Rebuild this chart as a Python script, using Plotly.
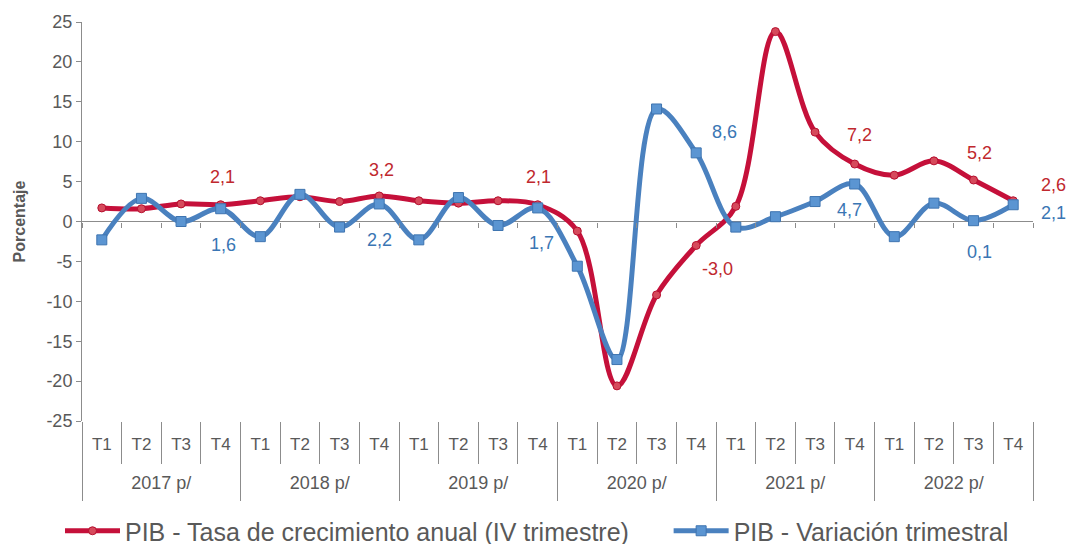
import plotly.graph_objects as go

years_lbl = ["2017 p/", "2018 p/", "2019 p/", "2020 p/", "2021 p/", "2022 p/"]
quarters = ["T1", "T2", "T3", "T4"] * 6
y_ticks = [-25, -20, -15, -10, -5, 0, 5, 10, 15, 20, 25]

anual = [1.7, 1.6, 2.2, 2.1, 2.6, 3.1, 2.5, 3.2, 2.6, 2.3, 2.6, 2.1,
         -1.2, -20.6, -9.2, -3.0, 1.9, 23.8, 11.2, 7.2, 5.8, 7.6, 5.2, 2.6]
trimestral = [-2.3, 2.9, 0.0, 1.6, -1.9, 3.4, -0.7, 2.2, -2.3, 3.0, -0.5, 1.7,
              -5.6, -17.3, 14.1, 8.6, -0.7, 0.6, 2.5, 4.7, -1.9, 2.3, 0.1, 2.1]

name_anual = "PIB - Tasa de crecimiento anual (IV trimestre)" + "\u00a0" * 5
name_trim = "PIB - Variación trimestral"

# labelled points: (index, dx, dy)
lab_anual = [(3, 2, 28), (7, 2, 26), (11, 1, 28), (15, 21, -24), (19, 5, 29), (22, 6, 27), (23, 40, 16)]
lab_trim = [(3, 3, -36), (7, 0, -36), (11, 4, -35), (15, 28, 21), (19, -5, -26), (22, 6, -31), (23, 40, -8)]

n = len(quarters)
idx = list(range(n))                       # category positions
centers_year = [4 * k + 1.5 for k in range(len(years_lbl))]
bounds_all = [i - 0.5 for i in range(n + 1)]
bounds_year = [4 * k - 0.5 for k in range(len(years_lbl) + 1)]

RED = "#C5103A"
BLUE = "#4A81BF"
RED_TXT = "#C0282E"
BLUE_TXT = "#3A76B4"
GRAY = "#595959"
LINE = "#8C8C8C"
FONT = "Liberation Sans, Arial"

fig = go.Figure()
fig.add_trace(go.Scatter(
    x=idx, y=anual, name=name_anual, mode="lines+markers",
    line=dict(color=RED, width=5, shape="spline", smoothing=1.0),
    marker=dict(symbol="circle", size=8, color="#D64A5C", line=dict(color="#B5102E", width=1)),
))
fig.add_trace(go.Scatter(
    x=idx, y=trimestral, name=name_trim, mode="lines+markers",
    line=dict(color=BLUE, width=5, shape="spline", smoothing=1.0),
    marker=dict(symbol="square", size=10, color="#5B95D2", line=dict(color="#3E74B0", width=1)),
))
# invisible helpers so the extra axes are drawn
for ax in ("x2", "x3"):
    fig.add_trace(go.Scatter(x=idx, y=anual, xaxis=ax, mode="lines", opacity=0,
                             showlegend=False, hoverinfo="skip"))

ann = []
for i, dx, dy in lab_anual:
    ann.append(dict(x=i, y=anual[i], xref="x", yref="y", text=f"{anual[i]:.1f}".replace(".", ","),
                    showarrow=False, xshift=dx, yshift=dy,
                    font=dict(size=18, color=RED_TXT, family=FONT)))
for i, dx, dy in lab_trim:
    ann.append(dict(x=i, y=trimestral[i], xref="x", yref="y", text=f"{trimestral[i]:.1f}".replace(".", ","),
                    showarrow=False, xshift=dx, yshift=dy,
                    font=dict(size=18, color=BLUE_TXT, family=FONT)))

rng = [-0.5, n - 0.5]
fig.update_layout(
    width=1071, height=544,
    margin=dict(l=82, r=38, t=22, b=123),
    paper_bgcolor="white", plot_bgcolor="white",
    font=dict(family=FONT, color=GRAY, size=16),
    showlegend=True,
    legend=dict(orientation="h", xref="container", x=60 / 1071, xanchor="left",
                yref="container", y=1 - 531 / 544, yanchor="middle",
                font=dict(size=25, color=GRAY), itemwidth=55, tracegroupgap=0,
                borderwidth=0),
    annotations=ann,
    # quarter labels + separators
    xaxis=dict(
        type="linear", range=rng, showgrid=False, showline=False, zeroline=False,
        tickmode="array", tickvals=idx, ticktext=quarters,
        ticks="outside", ticklen=8, tickcolor="rgba(0,0,0,0)",
        tickfont=dict(size=17, color=GRAY),
        minor=dict(tickmode="array", tickvals=bounds_all, ticks="outside", ticklen=42,
                   tickcolor=LINE, tickwidth=1, showgrid=False),
    ),
    # small ticks on the zero line
    xaxis2=dict(
        type="linear", range=rng, overlaying="x", anchor="free", position=0.5,
        showgrid=False, showline=False, zeroline=False, showticklabels=False,
        tickmode="array", tickvals=bounds_all,
        ticks="outside", ticklen=5, tickcolor=LINE,
    ),
    # year labels + year dividers
    xaxis3=dict(
        type="linear", range=rng, overlaying="x", anchor="free", position=0,
        showgrid=False, showline=False, zeroline=False,
        tickmode="array", tickvals=centers_year, ticktext=years_lbl,
        ticks="outside", ticklen=45, tickcolor="rgba(0,0,0,0)",
        tickfont=dict(size=18, color=GRAY),
        minor=dict(tickmode="array", tickvals=bounds_year, ticks="outside", ticklen=79,
                   tickcolor=LINE, tickwidth=1, showgrid=False),
    ),
    yaxis=dict(
        range=[-25, 25], showgrid=False,
        tickmode="array", tickvals=y_ticks, ticktext=[str(v) for v in y_ticks],
        zeroline=True, zerolinecolor=LINE, zerolinewidth=1,
        showline=True, linecolor=LINE, linewidth=1,
        ticks="outside", ticklen=5, tickcolor=LINE,
        tickfont=dict(size=18, color=GRAY),
        title=dict(text="<b>Porcentaje</b>", font=dict(size=16, color=GRAY), standoff=16),
    ),
)

fig.write_html("out.html", config={"displayModeBar": False},
               post_script="document.body.style.margin='0';")
